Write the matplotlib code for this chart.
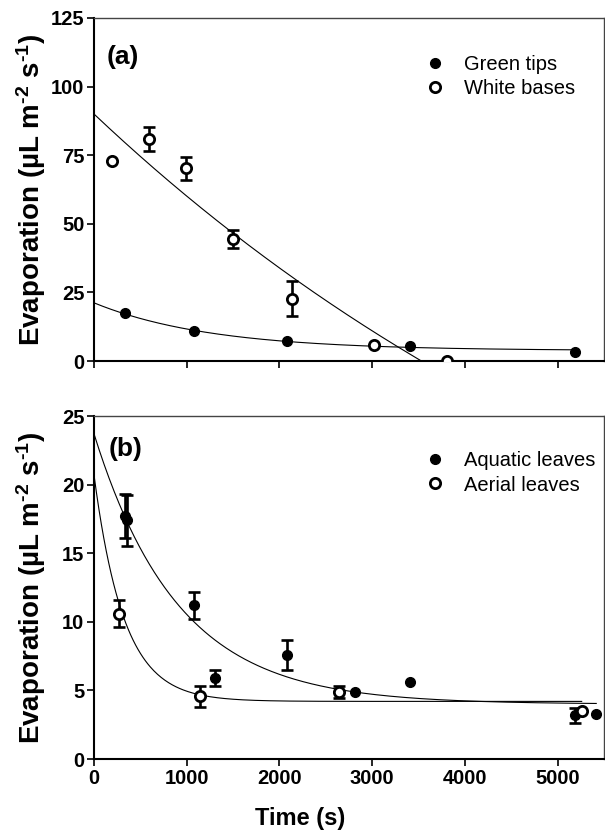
"""
Evaporation over time for two leaf types in two panels:
(a) green tips vs white bases, (b) aquatic vs aerial leaves.
"""

import numpy as np
import matplotlib
matplotlib.use("Agg")
import matplotlib.pyplot as plt

plt.rcParams['font.family'] = ['Liberation Sans', 'DejaVu Sans']
plt.rcParams['mathtext.fontset'] = 'custom'
plt.rcParams['mathtext.rm'] = 'Liberation Sans:bold'
plt.rcParams['mathtext.default'] = 'rm'

# Panel (a) data
green_t = [334, 1078, 2076, 3405, 5183]
green_y = [17.6, 11.0, 7.4, 5.6, 3.2]

white_t = [194, 589, 995, 1501, 2137, 3014, 3804]
white_y = [72.8, 80.8, 70.2, 44.5, 22.7, 5.8, 0.1]
white_err = [0, 4.4, 4.3, 3.3, 6.4, 0, 0]

# Panel (b) data
aquatic_t = [334, 359, 1078, 1304, 2076, 2812, 3405, 5183, 5416]
aquatic_y = [17.7, 17.4, 11.2, 5.9, 7.6, 4.9, 5.6, 3.2, 3.25]
aquatic_err = [1.6, 1.85, 1.0, 0.6, 1.1, 0, 0, 0.55, 0]

aerial_t = [273, 1146, 2644, 5259]
aerial_y = [10.6, 4.56, 4.9, 3.47]
aerial_err = [0.97, 0.76, 0.45, 0]

# Fitted curves y = plateau + span * exp(-k t), drawn from 0 to t_end
green_fit = dict(plateau=3.8, span=17.4, k=7.94e-4, t_end=5183)
white_fit = dict(plateau=-150.0, span=240.0, k=1.331e-4, t_end=3600)
aquatic_fit = dict(plateau=4.0, span=19.7, k=1.103e-3, t_end=5416)
aerial_fit = dict(plateau=4.2, span=16.5, k=3.1e-3, t_end=5259)

x_ticks = [0, 1000, 2000, 3000, 4000, 5000]


def fit_curve(ax, p):
    t = np.linspace(0, p['t_end'], 400)
    ax.plot(t, p['plateau'] + p['span'] * np.exp(-p['k'] * t), color='black', lw=0.8, zorder=2)


def points(ax, t, y, err, filled, label):
    t, y, err = np.array(t), np.array(y), np.array(err)
    has = err > 0
    ax.errorbar(t[has], y[has], yerr=err[has], fmt='none', ecolor='black',
                elinewidth=1.9, capsize=4.5, capthick=1.9, zorder=3)
    if filled:
        ax.plot(t, y, 'o', color='black', ms=7.0, ls='none', label=label, zorder=4)
    else:
        ax.plot(t, y, 'o', mfc='white', mec='black', mew=2.0, ms=7.4, ls='none',
                label=label, zorder=4)


def style(ax, ymax, yticks, leg_y):
    ax.set_xlim(0, 5500)
    ax.set_ylim(0, ymax)
    ax.set_xticks(x_ticks)
    ax.set_yticks(yticks)
    for side in ['left', 'bottom']:
        ax.spines[side].set_linewidth(1.5)
        ax.spines[side].set_color('black')
    for side in ['top', 'right']:
        ax.spines[side].set_linewidth(1.0)
        ax.spines[side].set_color('#444444')
    ax.tick_params(top=False, right=False, direction='out', length=5, width=1.2, pad=2)
    for lab in ax.get_xticklabels() + ax.get_yticklabels():
        lab.set_fontsize(14.5)
        lab.set_fontweight('bold')
    ax.set_ylabel(r'Evaporation (µL m$^{\text{-}2}$ s$^{\text{-}1}$)', fontsize=20,
                  fontweight='bold')
    ax.yaxis.set_label_coords(-0.091, 0.5)
    ax.legend(loc='upper left', bbox_to_anchor=(0.63, leg_y), frameon=False, fontsize=14.5,
              handletextpad=0.8, labelspacing=0.25, handlelength=1.2, borderaxespad=0)


fig = plt.figure(figsize=(6.05, 8.33), dpi=100)
ax_a = fig.add_axes([0.1554, 0.5666, 0.843, 0.4118])
ax_b = fig.add_axes([0.1554, 0.0888, 0.843, 0.4118])

# (a)
fit_curve(ax_a, green_fit)
fit_curve(ax_a, white_fit)
points(ax_a, green_t, green_y, [0] * len(green_t), True, 'Green tips')
points(ax_a, white_t, white_y, white_err, False, 'White bases')
style(ax_a, 125, [0, 25, 50, 75, 100, 125], 0.915)
ax_a.tick_params(labelbottom=False)
ax_a.text(0.025, 0.885, '(a)', transform=ax_a.transAxes, fontsize=19, fontweight='bold',
          va='center')

# (b)
fit_curve(ax_b, aquatic_fit)
fit_curve(ax_b, aerial_fit)
points(ax_b, aquatic_t, aquatic_y, aquatic_err, True, 'Aquatic leaves')
points(ax_b, aerial_t, aerial_y, aerial_err, False, 'Aerial leaves')
style(ax_b, 25, [0, 5, 10, 15, 20, 25], 0.92)
ax_b.set_xlabel('Time (s)', fontsize=17, fontweight='bold')
ax_b.xaxis.set_label_coords(0.404, -0.14)
ax_b.text(0.028, 0.905, '(b)', transform=ax_b.transAxes, fontsize=19, fontweight='bold',
          va='center')

fig.savefig('out.png', dpi=100)
plt.close(fig)
